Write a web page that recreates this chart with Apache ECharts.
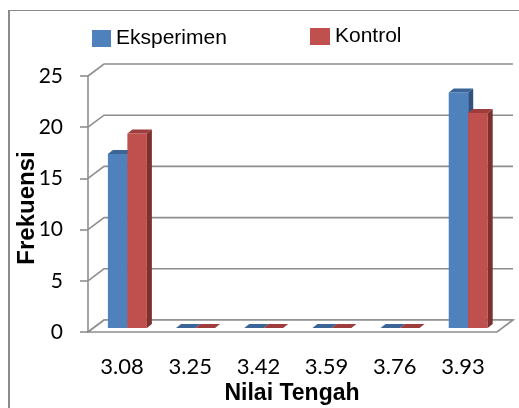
<!DOCTYPE html>
<html>
<head>
<meta charset="utf-8">
<script src="https://cdn.jsdelivr.net/npm/echarts@6/dist/echarts.min.js"></script>
<style>
  body { margin: 0; background: #fff; }
  #frame { position: absolute; left: 8px; top: 10px; width: 600px; height: 500px;
           border-left: 2px solid #8a8a8a; border-top: 1px solid #8a8a8a; }
  #main { position: absolute; left: 0; top: 0; width: 519px; height: 408px; }
</style>
</head>
<body>
<div id="frame"></div>
<div id="main"></div>
<script>
const categories = ['3.08', '3.25', '3.42', '3.59', '3.76', '3.93'];
const eksperimen = [17, 0, 0, 0, 0, 23];
const kontrol = [19, 0, 0, 0, 0, 21];
const yTicks = [0, 5, 10, 15, 20, 25];

// 3D look: back wall offset and bar depth
const WALL_DX = 16, WALL_DY = 12;
const BAR_SHIFT_X = 5.3, BAR_SHIFT_Y = 4;
const BAR_DX = 5, BAR_DY = 4;
const gridColor = '#8e8e8e';

function barRender(idx, colors) {
  return function (params, api) {
    const base = api.coord([api.value(0), 0]);
    const top = api.coord([api.value(0), api.value(1)]);
    const band = api.size([1, 0])[0];
    const w = band * 0.286;
    const x0 = base[0] + BAR_SHIFT_X - w + idx * w;
    const yb = base[1] - BAR_SHIFT_Y;
    const yt = top[1] - BAR_SHIFT_Y;
    return {
      type: 'group',
      children: [
        { type: 'polygon', shape: { points: [[x0, yt], [x0 + w, yt], [x0 + w, yb], [x0, yb]] },
          style: { fill: colors[0] } },
        { type: 'polygon', shape: { points: [[x0, yt], [x0 + w, yt], [x0 + w + BAR_DX, yt - BAR_DY], [x0 + BAR_DX, yt - BAR_DY]] },
          style: { fill: colors[1] } },
        { type: 'polygon', shape: { points: [[x0 + w, yt], [x0 + w + BAR_DX, yt - BAR_DY], [x0 + w + BAR_DX, yb - BAR_DY], [x0 + w, yb]] },
          style: { fill: colors[2] } }
      ]
    };
  };
}

const chart = echarts.init(document.getElementById('main'));
chart.setOption({
  animation: false,
  legend: [
    { data: ['Eksperimen'], left: 92, top: 28, padding: 0, icon: 'rect', itemWidth: 19, itemHeight: 17,
      textStyle: { fontFamily: 'Liberation Sans', fontSize: 21, color: '#000' } },
    { data: ['Kontrol'], left: 310, top: 26, padding: 0, icon: 'rect', itemWidth: 20, itemHeight: 17,
      textStyle: { fontFamily: 'Liberation Sans', fontSize: 21, color: '#000' } }
  ],
  grid: { left: 88, top: 76, width: 409, height: 256, outerBoundsMode: 'none' },
  xAxis: {
    type: 'category',
    data: categories,
    axisLine: { show: false },
    axisTick: { show: false },
    axisLabel: { margin: 24, fontFamily: 'Lato', fontSize: 22, color: '#000' }
  },
  yAxis: {
    type: 'value',
    min: 0, max: 25, interval: 5,
    splitLine: { show: false },
    axisLine: { show: true, lineStyle: { color: gridColor, width: 1.6 } },
    axisTick: { show: true, length: 8, lineStyle: { color: gridColor, width: 1.6 } },
    axisLabel: { margin: 25, fontFamily: 'Lato', fontSize: 21, color: '#000' }
  },
  graphic: [
    { type: 'text', x: 27, y: 208, rotation: Math.PI / 2,
      style: { text: 'Frekuensi', fontFamily: 'Liberation Sans', fontWeight: 'bold', fontSize: 24,
               fill: '#000', align: 'center', verticalAlign: 'middle' } },
    { type: 'text', x: 292, y: 394,
      style: { text: 'Nilai Tengah', fontFamily: 'Liberation Sans', fontWeight: 'bold', fontSize: 23,
               fill: '#000', align: 'center', verticalAlign: 'middle' } }
  ],
  series: [
    {
      name: 'wall',
      type: 'custom',
      silent: true,
      z: 1,
      data: yTicks.map(v => [0, v]),
      renderItem: function (params, api) {
        const cs = params.coordSys;
        const y = api.coord([0, api.value(1)])[1];
        return {
          type: 'polyline',
          shape: { points: [[cs.x, y], [cs.x + WALL_DX, y - WALL_DY], [cs.x + cs.width + WALL_DX, y - WALL_DY]] },
          style: { stroke: gridColor, lineWidth: 1.6, fill: null }
        };
      }
    },
    {
      name: 'floor',
      type: 'custom',
      silent: true,
      z: 1,
      data: [[0, 0]],
      renderItem: function (params, api) {
        const cs = params.coordSys;
        const y = api.coord([0, 0])[1];
        return {
          type: 'polygon',
          shape: { points: [[cs.x, y], [cs.x + cs.width, y], [cs.x + cs.width + WALL_DX, y - WALL_DY], [cs.x + WALL_DX, y - WALL_DY]] },
          style: { stroke: gridColor, lineWidth: 1.6, fill: '#fff' }
        };
      }
    },
    {
      name: 'Eksperimen',
      type: 'custom',
      z: 3,
      itemStyle: { color: '#4F81BD' },
      data: eksperimen.map((v, i) => [i, v]),
      encode: { x: 0, y: 1 },
      renderItem: barRender(0, ['#4F81BD', '#3B6597', '#2F5280'])
    },
    {
      name: 'Kontrol',
      type: 'custom',
      z: 4,
      itemStyle: { color: '#C0504D' },
      data: kontrol.map((v, i) => [i, v]),
      encode: { x: 0, y: 1 },
      renderItem: barRender(1, ['#C0504D', '#9E3D3B', '#7E302E'])
    }
  ]
});
</script>
</body>
</html>
